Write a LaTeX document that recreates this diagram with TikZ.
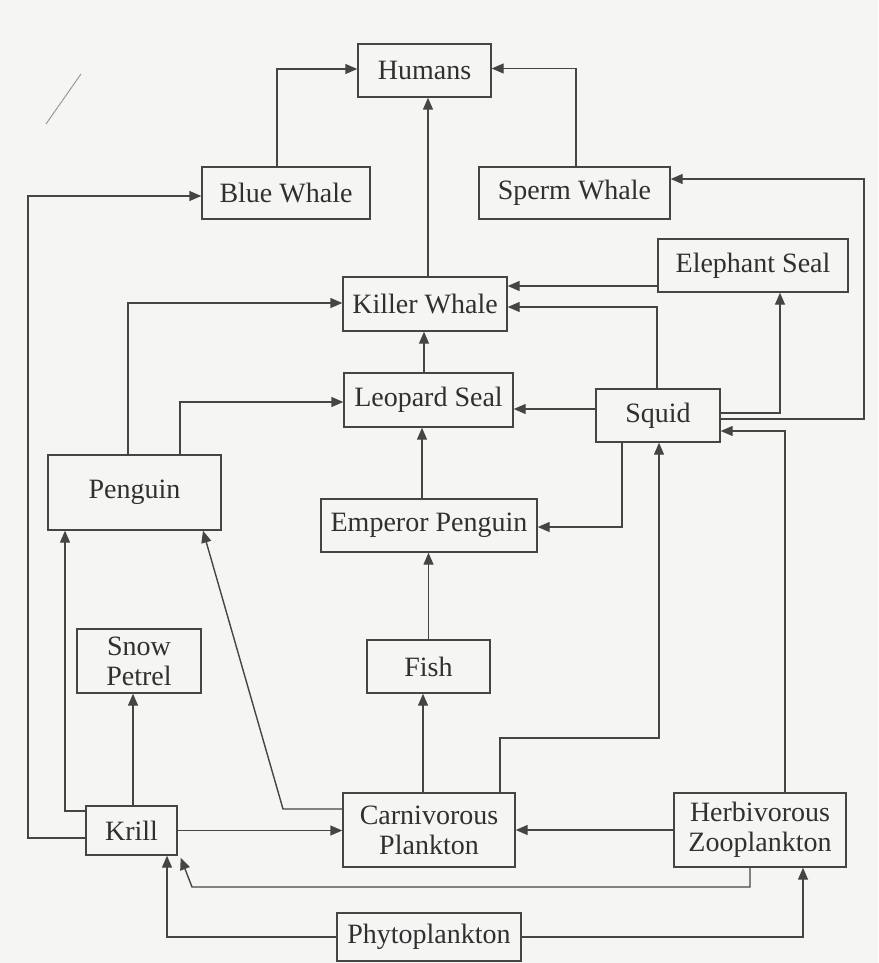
\documentclass[tikz,border=0pt]{standalone}
\usepackage{fontspec}
\setmainfont{Liberation Serif}
\usetikzlibrary{arrows.meta}
\definecolor{ink}{HTML}{303030}
\definecolor{lin}{HTML}{454545}
\definecolor{paper}{HTML}{F5F5F3}
\begin{document}
\begin{tikzpicture}[x=1pt,y=-1pt,
  box/.style={draw=lin, line width=1.4pt, text=ink, inner sep=0pt, align=center,
    font=\fontsize{28}{30}\selectfont},
  arr/.style={draw=lin, line width=1.4pt, -{Triangle[length=12pt,width=10pt]}}]
\fill[paper] (0,0) rectangle (878,963);
\useasboundingbox (0,0) rectangle (878,963);
% stray pen mark
\draw[lin!55, line width=1pt] (46,124) -- (81,74);
% nodes
\node[box, minimum width=133pt, minimum height=53pt] (hum) at (424.5,70.5) {Humans};
\node[box, minimum width=168pt, minimum height=52pt] (bw) at (286,193) {Blue Whale};
\node[box, minimum width=191pt, minimum height=52pt] (sw) at (574.5,193) {Sperm Whale};
\node[box, minimum width=190pt, minimum height=53pt] (es) at (753,265.5) {Elephant Seal};
\node[box, minimum width=164pt, minimum height=54pt] (kw) at (425,304) {Killer Whale};
\node[box, minimum width=169pt, minimum height=54pt] (ls) at (428.5,400) {Leopard Seal};
\node[box, minimum width=124pt, minimum height=53pt] (sq) at (658,415.5) {Squid};
\node[box, minimum width=216pt, minimum height=53pt] (ep) at (429,525.5) {Emperor Penguin};
\node[box, minimum width=173pt, minimum height=75pt] (peng) at (134.5,492.5) {Penguin};
\node[box, minimum width=124pt, minimum height=64pt] (sp) at (139,661) {Snow\\Petrel};
\node[box, minimum width=123pt, minimum height=53pt] (fish) at (428.5,666.5) {Fish};
\node[box, minimum width=91pt, minimum height=49pt] (krill) at (131.5,830.5) {Krill};
\node[box, minimum width=172pt, minimum height=74pt] (carn) at (429,830) {Carnivorous\\Plankton};
\node[box, minimum width=172pt, minimum height=74pt] (herb) at (760,830) {Herbivorous\\Zooplankton};
\node[box, minimum width=184pt, minimum height=48pt] (phy) at (429,937) {Phytoplankton};
% helper coordinates
\coordinate (xL) at (28,0);
\coordinate (xR) at (864,0);
\coordinate (yM) at (0,738);
\coordinate (xD) at (283,0);
\coordinate (yB) at (0,887);
\coordinate (xB) at (192,0);
% connectors
\draw[arr] ([xshift=3]kw.north) -- ([xshift=3]kw.north |- hum.south);
\draw[arr] ([xshift=-9]bw.north) |- ([yshift=1.5]hum.west);
\draw[arr] ([xshift=1.5]sw.north) |- ([yshift=2]hum.east);
\draw[arr] ([yshift=-7.5]krill.west) -- ([yshift=-7.5]krill.west -| xL) |- ([yshift=-3]bw.west);
\draw[arr] ([xshift=-6.5]peng.north) |- ([yshift=1]kw.west);
\draw[arr] ([xshift=45.5]peng.north) |- ([yshift=-2]ls.west);
\draw[arr] ([yshift=-20.5]es.west) -- ([yshift=-20.5]es.west -| kw.east);
\draw[arr] ([xshift=-1]sq.north) |- ([yshift=-3]kw.east);
\draw[arr] ([yshift=2.5]sq.east) -| ([xshift=27]es.south);
\draw[arr] ([yshift=-3.5]sq.east) -- ([yshift=-3.5]sq.east -| xR) |- ([yshift=14]sw.east);
\draw[arr] ([xshift=-4.5]ls.north) -- ([xshift=-4.5]ls.north |- kw.south);
\draw[arr] ([yshift=6.5]sq.west) -- ([yshift=6.5]sq.west -| ls.east);
\draw[arr] ([xshift=-7]ep.north) -- ([xshift=-7]ep.north |- ls.south);
\draw[arr] ([xshift=-36]sq.south) |- ([yshift=-1.5]ep.east);
\draw[arr] (fish.north) -- (fish.north |- ep.south);
\draw[arr] ([xshift=-6]carn.north) -- ([xshift=-6]carn.north |- fish.south);
\draw[arr] ([xshift=71]carn.north) -- ([xshift=71]carn.north |- yM) -| ([xshift=1]sq.south);
\draw[arr] ([xshift=25]herb.north) |- ([yshift=-15.5]sq.east);
\draw[arr] ([xshift=1.5]krill.north) -- ([xshift=1.5]krill.north |- sp.south);
\draw[arr] ([yshift=19.5]krill.west) -| ([xshift=-69.5]peng.south);
\draw[arr] ([yshift=21]carn.west) -- ([yshift=21]carn.west -| xD) -- ([xshift=68.5]peng.south);
\draw[arr] (krill.east) -- (krill.east -| carn.west);
\draw[arr] (herb.west) -- (carn.east);
\draw[arr] ([xshift=-10]herb.south) -- ([xshift=-10]herb.south |- yB) -- (xB |- yB) -- ([xshift=3,yshift=-2]krill.south east);
\draw[arr] (phy.west) -| ([xshift=35.5]krill.south);
\draw[arr] (phy.east) -| ([xshift=43]herb.south);
\end{tikzpicture}
\end{document}
